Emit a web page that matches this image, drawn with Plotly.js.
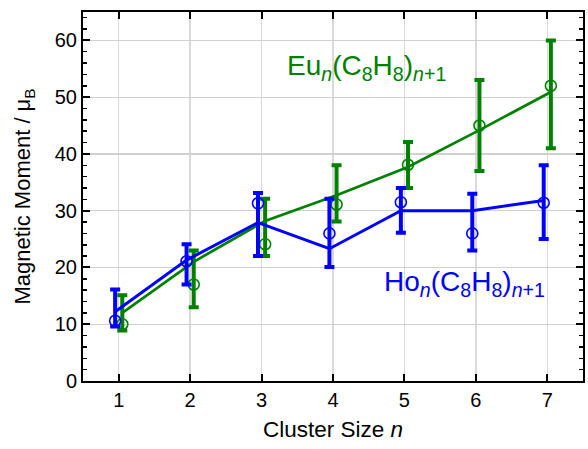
<!DOCTYPE html>
<html>
<head>
<meta charset="utf-8">
<script src="https://cdn.plot.ly/plotly-3.0.1.min.js"></script>
<style>html,body{margin:0;padding:0;background:#fff}#chart{width:588px;height:449px}</style>
</head>
<body>
<div id="chart"></div>
<script>
// Cluster sizes
const clusterSize = [1, 2, 3, 4, 5, 6, 7];

// Eu_n(C8H8)_(n+1)
const euLine   = [12.0, 21.0, 28.2, 32.7, 37.7, 44.2, 50.9];
const euPoints = [10.0, 17.0, 24.1, 31.1, 38.1, 45.0, 52.0];
const euErrTop = [15.1, 23.0, 32.1, 38.0, 42.1, 53.0, 60.0];
const euErrBot = [8.9, 13.0, 22.0, 28.1, 34.0, 37.0, 41.0];

// Ho_n(C8H8)_(n+1)
const hoLine   = [12.2, 21.3, 27.9, 23.3, 30.0, 30.0, 31.8];
const hoPoints = [10.6, 21.1, 31.3, 26.0, 31.5, 26.0, 31.4];
const hoErrTop = [16.1, 24.1, 33.1, 32.1, 34.0, 33.0, 38.0];
const hoErrBot = [9.6, 17.0, 22.0, 20.1, 26.1, 23.0, 25.0];

const yTickVals = [0, 10, 20, 30, 40, 50, 60];
const xTickVals = [1, 2, 3, 4, 5, 6, 7];

const GREEN = '#008000';
const BLUE = '#0000ff';
const euX = clusterSize.map(n => n + 0.05);
const hoX = clusterSize.map(n => n - 0.05);

function errTrace(x, line, top, bot, color, w) {
  return {
    x: x, y: line, type: 'scatter', mode: 'lines',
    line: {color: color, width: w},
    error_y: {
      type: 'data', symmetric: false,
      array: top.map((t, i) => t - line[i]),
      arrayminus: bot.map((b, i) => line[i] - b),
      color: color, thickness: 4, width: 5
    },
    hoverinfo: 'skip', showlegend: false
  };
}
function ptTrace(x, y, color) {
  return {
    x: x, y: y, type: 'scatter', mode: 'markers',
    marker: {symbol: 'circle-open', size: 11, color: color, line: {width: 1.6, color: color}},
    showlegend: false
  };
}

const data = [
  errTrace(euX, euLine, euErrTop, euErrBot, GREEN, 2.7),
  ptTrace(euX, euPoints, GREEN),
  errTrace(hoX, hoLine, hoErrTop, hoErrBot, BLUE, 3),
  ptTrace(hoX, hoPoints, BLUE),
  {x: [null], y: [null], yaxis: 'y2', type: 'scatter', mode: 'markers', showlegend: false, hoverinfo: 'skip'}
];

const FONT = 'Arial, "Liberation Sans", sans-serif';
const minorY = {dtick: 2, ticks: 'inside', ticklen: 4, tickwidth: 1.5, tickcolor: '#000', showgrid: false};
const layout = {
  width: 588, height: 449,
  margin: {l: 83, r: 5, t: 12, b: 68},
  paper_bgcolor: '#fff', plot_bgcolor: '#fff',
  font: {family: FONT, size: 20, color: '#000'},
  showlegend: false,
  xaxis: {
    range: [0.5, 7.5], tickvals: xTickVals, ticktext: xTickVals.map(String),
    ticks: 'inside', ticklen: 7, tickwidth: 2, tickcolor: '#000',
    showline: true, linecolor: '#000', linewidth: 2, mirror: 'ticks',
    showgrid: true, gridcolor: '#dadada', gridwidth: 1.5, zeroline: false,
    tickfont: {size: 20},
    title: {text: 'Cluster Size <i>n</i>', font: {size: 22.5}, standoff: 11}
  },
  yaxis: {
    range: [0, 65], tickvals: yTickVals, ticktext: yTickVals.map(String),
    ticks: 'inside', ticklen: 7, tickwidth: 2, tickcolor: '#000',
    minor: minorY,
    showline: true, linecolor: '#000', linewidth: 2, mirror: 'ticks',
    showgrid: true, gridcolor: '#d0d0d0', gridwidth: 1.2, zeroline: false,
    tickfont: {size: 20},
    title: {text: 'Magnetic Moment / μ<sub>B</sub>', font: {size: 22}, standoff: 18}
  },
  yaxis2: {
    overlaying: 'y', side: 'right', range: [0, 65], tickvals: yTickVals,
    ticks: 'inside', ticklen: 7, tickwidth: 2, tickcolor: '#000',
    minor: minorY, showticklabels: false, showgrid: false, zeroline: false, showline: false
  },
  annotations: [
    {x: 3.33, y: 55.3, xref: 'x', yref: 'y', xanchor: 'left', yanchor: 'middle', showarrow: false,
     text: 'Eu<sub><i>n</i></sub>(C<sub>8</sub>H<sub>8</sub>)<sub><i>n</i>+1</sub>',
     font: {size: 28, color: GREEN, family: FONT}},
    {x: 4.69, y: 17.2, xref: 'x', yref: 'y', xanchor: 'left', yanchor: 'middle', showarrow: false,
     text: 'Ho<sub><i>n</i></sub>(C<sub>8</sub>H<sub>8</sub>)<sub><i>n</i>+1</sub>',
     font: {size: 28, color: BLUE, family: FONT}}
  ]
};

Plotly.newPlot('chart', data, layout, {displayModeBar: false, staticPlot: true});
</script>
</body>
</html>
